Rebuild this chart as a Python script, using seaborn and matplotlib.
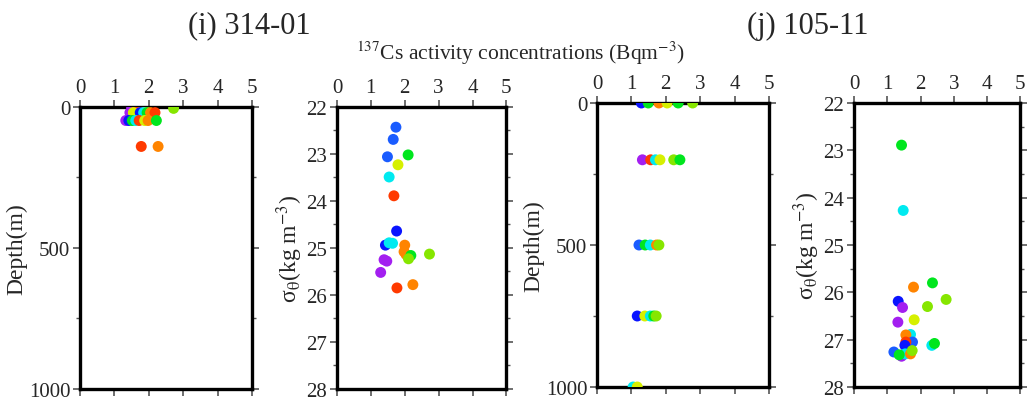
import numpy as np
import pandas as pd
import matplotlib
matplotlib.use("Agg")
import matplotlib.pyplot as plt
from matplotlib.ticker import MultipleLocator
import seaborn as sns

# ---- data ----
# group code: 0 purple, 1 blue, 2 azure, 3 cyan, 4 green, 5 lime, 6 yellow, 7 orange, 8 red
# (i) 314-01, Cs vs depth
p1_depth = [0, 0, 0, 5, 20, 20, 20, 20, 20, 20, 20,
            48, 48, 48, 48, 48, 48, 48, 48, 140, 140]
p1_cs = [1.50, 1.65, 1.85, 2.72, 1.45, 1.55, 1.75, 1.85, 1.95, 2.05, 2.18,
         1.33, 1.42, 1.52, 1.62, 1.72, 1.88, 1.98, 2.22, 1.78, 2.27]
p1_grp = [0, 8, 7, 5, 0, 6, 1, 3, 4, 7, 8,
          0, 1, 4, 3, 8, 6, 7, 4, 8, 7]

# (i) 314-01, Cs vs sigma-theta
p2_sigma = [22.43, 22.69, 23.06, 23.02, 23.23, 23.49, 23.89, 24.64, 24.94, 24.89,
            24.90, 24.94, 25.08, 25.14, 25.16, 25.23, 25.13, 25.25, 25.28, 25.52,
            25.85, 25.78]
p2_cs = [1.74, 1.66, 1.49, 2.10, 1.80, 1.54, 1.68, 1.76, 1.43, 1.54,
         1.64, 2.00, 1.98, 2.04, 2.18, 2.11, 2.73, 1.39, 1.47, 1.29,
         1.77, 2.24]
p2_grp = [2, 2, 2, 4, 6, 3, 8, 1, 1, 3,
          3, 7, 7, 7, 4, 5, 5, 0, 0, 0,
          8, 7]

# (j) 105-11, Cs vs depth
p3_depth = [0, 0, 0, 0, 0, 0,
            200, 200, 200, 200, 200, 200,
            500, 500, 500, 500, 500,
            750, 750, 750, 750, 750,
            1000, 1000]
p3_cs = [1.29, 1.49, 1.80, 2.04, 2.36, 2.78,
         1.32, 1.56, 1.70, 1.83, 2.23, 2.41,
         1.22, 1.40, 1.55, 1.73, 1.80,
         1.17, 1.39, 1.55, 1.65, 1.72,
         1.05, 1.17]
p3_grp = [1, 4, 7, 6, 4, 5,
          0, 8, 3, 6, 5, 4,
          2, 4, 3, 7, 5,
          1, 6, 3, 4, 5,
          3, 6]

# (j) 105-11, Cs vs sigma-theta
p4_sigma = [22.89, 24.27, 25.80, 25.89, 26.15, 26.19, 26.32, 26.30, 26.58, 26.63,
            26.89, 26.90, 27.05, 27.05, 27.12, 27.12, 27.08, 27.26, 27.35, 27.30,
            27.30, 27.23, 27.32]
p4_cs = [1.43, 1.48, 2.36, 1.79, 2.77, 1.33, 1.46, 2.21, 1.81, 1.32,
         1.70, 1.56, 1.76, 1.56, 1.53, 2.34, 2.42, 1.20, 1.43, 1.54,
         1.70, 1.75, 1.36]
p4_grp = [4, 3, 4, 7, 5, 1, 0, 5, 6, 0,
          3, 7, 2, 8, 1, 3, 4, 2, 0, 3,
          7, 5, 4]

titles = ["(i) 314-01", "(j) 105-11"]

colors = ["#a31ff0", "#0a14ff", "#1a5cff", "#00eaf0", "#00e61e",
          "#86e600", "#d6f000", "#ff8400", "#ff3a00"]

sns.set_theme(style="ticks")
plt.rcParams["font.family"] = ["Liberation Serif", "DejaVu Serif"]
plt.rcParams["mathtext.fontset"] = "stix"

fig = plt.figure(figsize=(10.27, 4.02), dpi=100)

boxes = [
    [0.0779, 0.0299, 0.1675, 0.7015],
    [0.3281, 0.0299, 0.1650, 0.7015],
    [0.5813, 0.0348, 0.1675, 0.7065],
    [0.8315, 0.0348, 0.1620, 0.7065],
]

panels = [
    (p1_cs, p1_depth, p1_grp, "depth"),
    (p2_cs, p2_sigma, p2_grp, "sigma"),
    (p3_cs, p3_depth, p3_grp, "depth"),
    (p4_cs, p4_sigma, p4_grp, "sigma"),
]

for box, (cs, yv, grp, kind) in zip(boxes, panels):
    ax = fig.add_axes(box)
    df = pd.DataFrame({"cs": cs, "y": yv, "grp": grp})
    sns.scatterplot(data=df, x="cs", y="y", hue="grp",
                    palette=dict(enumerate(colors)), s=62,
                    linewidth=0, legend=False, ax=ax, zorder=3)
    ax.set_xlim(0, 5)
    ax.xaxis.set_major_locator(MultipleLocator(1))
    if kind == "depth":
        ax.set_ylim(1000, 0)
        ax.yaxis.set_major_locator(MultipleLocator(500))
        ax.yaxis.set_minor_locator(MultipleLocator(250))
        ax.set_ylabel("Depth(m)", fontsize=17, labelpad=1)
    else:
        ax.set_ylim(28, 22)
        ax.yaxis.set_major_locator(MultipleLocator(1))
        ax.yaxis.set_minor_locator(MultipleLocator(0.5))
        ax.set_ylabel(r"σ$_{\mathrm{θ}}$(kg m$^{\mathrm{-3}}$)", fontsize=17, labelpad=1)
    ax.set_xlabel("")
    ax.tick_params(axis="both", which="both", direction="out",
                   top=True, bottom=True, left=True, right=True,
                   labeltop=True, labelbottom=False, labelleft=True,
                   labelright=False, labelsize=15, color="#555555",
                   pad=2)
    ax.tick_params(which="major", length=5, width=1.2)
    ax.tick_params(which="minor", length=3, width=1.0)
    for sp in ax.spines.values():
        sp.set_linewidth(2.4)
        sp.set_color("black")

fig.text(0.243, 0.935, titles[0], fontsize=22, ha="center", va="center")
fig.text(0.787, 0.935, titles[1], fontsize=22, ha="center", va="center")
fig.text(0.507, 0.868, r"$^{137}$Cs activity concentrations (Bqm$^{\mathrm{-3}}$)",
         fontsize=15.5, ha="center", va="center")

fig.savefig("out.png", dpi=100)
